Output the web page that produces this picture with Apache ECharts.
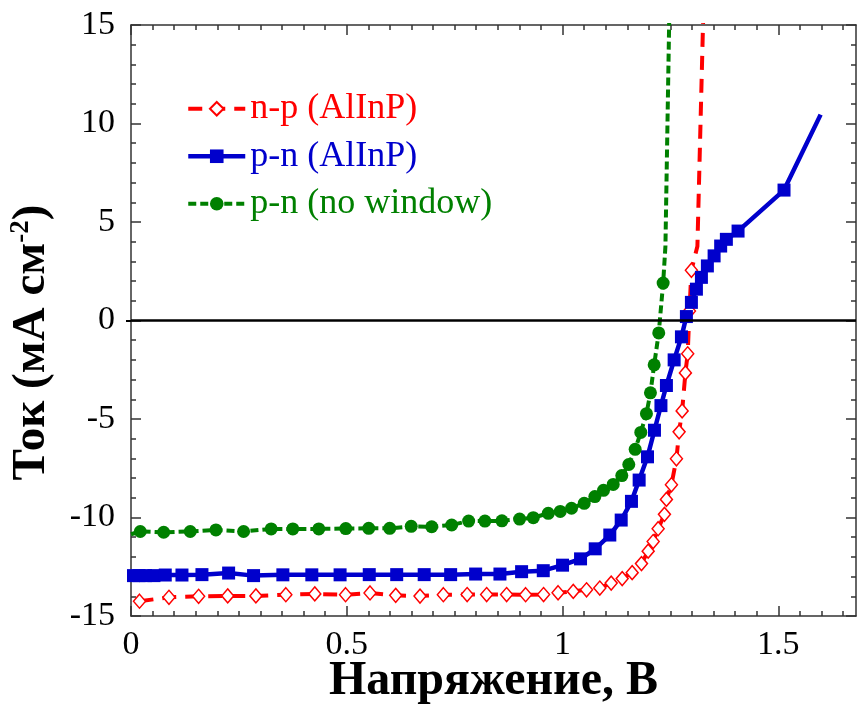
<!DOCTYPE html>
<html><head><meta charset="utf-8">
<script src="https://cdn.jsdelivr.net/npm/echarts@6/dist/echarts.min.js"></script>
<style>html,body{margin:0;padding:0;background:#fff}#c{width:860px;height:711px}</style>
</head><body><div id="c"></div>
<script>
// ---- data ----
const seriesNames = ['n-p (AlInP)', 'p-n (AlInP)', 'p-n (no window)'];
const xTickLabels = [0, 0.5, 1, 1.5];
const yTickLabels = [-15, -10, -5, 0, 5, 10, 15];

const redV = [0.0197,0.088,0.1567,0.2241,0.2894,0.3588,0.4259,0.4972,0.5539,0.6134,0.6697,0.7238,0.7789,0.8241,0.8704,0.9144,0.956,0.9896,1.0248,1.0556,1.0863,1.1127,1.1382,1.1613,1.1829,1.1984,1.21,1.2215,1.2361,1.2407,1.2523,1.2639,1.2701,1.2771,1.2847,1.29,1.294,1.2986,1.3125,1.3287];
const redI = [-14.25,-14.05,-14.0,-13.98,-13.98,-13.92,-13.88,-13.92,-13.83,-13.95,-13.99,-13.92,-13.91,-13.91,-13.91,-13.92,-13.91,-13.82,-13.75,-13.67,-13.58,-13.33,-13.10,-12.80,-12.34,-11.71,-11.22,-10.57,-9.84,-9.08,-8.34,-7.02,-5.65,-4.59,-2.66,-1.69,0.48,2.55,3.77,17.8];
const redNoMarker = [38, 39];

const blueV = [0.0058,0.0185,0.0336,0.0532,0.0794,0.1181,0.1644,0.2262,0.284,0.3519,0.419,0.4845,0.5521,0.6157,0.6794,0.7407,0.7986,0.8549,0.9051,0.9553,1.0,1.0417,1.0757,1.1095,1.1359,1.1597,1.1775,1.1968,1.213,1.228,1.2407,1.2586,1.2755,1.287,1.2986,1.3102,1.3218,1.3356,1.3512,1.3664,1.3796,1.4067,1.5132,1.598];
const blueI = [-12.95,-12.95,-12.95,-12.95,-12.92,-12.92,-12.90,-12.82,-12.95,-12.91,-12.91,-12.91,-12.90,-12.90,-12.90,-12.90,-12.87,-12.87,-12.75,-12.70,-12.42,-12.10,-11.59,-10.89,-10.13,-9.18,-8.10,-6.92,-5.57,-4.32,-3.30,-2.00,-0.83,0.20,0.92,1.59,2.19,2.77,3.28,3.78,4.12,4.54,6.62,10.45];
const blueNoMarker = [43];

const greenV = [0.0,0.0215,0.0757,0.1373,0.1968,0.2609,0.3248,0.375,0.4352,0.4977,0.5509,0.5995,0.6493,0.6968,0.7431,0.7824,0.8201,0.8595,0.9005,0.9322,0.9669,0.9947,1.0208,1.0502,1.0748,1.0949,1.1174,1.1373,1.1535,1.1683,1.1813,1.1944,1.2037,1.2123,1.2229,1.2331,1.2384,1.2491];
const greenI = [-10.85,-10.71,-10.75,-10.71,-10.63,-10.71,-10.58,-10.58,-10.58,-10.56,-10.55,-10.55,-10.45,-10.47,-10.38,-10.18,-10.18,-10.17,-10.08,-10.01,-9.79,-9.69,-9.53,-9.28,-8.94,-8.62,-8.32,-7.87,-7.31,-6.54,-5.68,-4.73,-3.67,-2.25,-0.63,1.90,3.77,17.8];
const greenNoMarker = [0, 36, 37];

// ---- styling ----
const FONT = 'Liberation Serif';
const RED = '#ff0000', BLUE = '#0000cc', GREEN = '#008000';
const frameLine = {color: '#333', width: 1.5};
const X_MAX = 1.68;
const xMinorTicks = [];
for (let k = 0; k * 0.05 <= X_MAX + 1e-9; k++) xMinorTicks.push(+(k * 0.05).toFixed(2));

function pts(V, I, noMarker) {
  return V.map((v, i) => noMarker.indexOf(i) >= 0 ? {value: [v, I[i]], symbol: 'none'} : [v, I[i]]);
}

const baseX = {type: 'value', min: 0, max: X_MAX, splitLine: {show: false}};
const baseY = {type: 'value', min: -15, max: 15, interval: 5, splitLine: {show: false}};

const option = {
  animation: false,
  backgroundColor: '#fff',
  grid: {left: 129, right: 4, top: 25, bottom: 93, containLabel: false},
  legend: {
    orient: 'vertical', left: 181, top: 80, itemWidth: 57, itemHeight: 17, itemGap: 0,
    selectedMode: false,
    textStyle: {fontFamily: FONT, fontSize: 36, lineHeight: 47.5},
    data: [
      {name: seriesNames[0], textStyle: {color: RED}, lineStyle: {width: 4, type: [14, 9], color: RED}},
      {name: seriesNames[1], textStyle: {color: BLUE}, lineStyle: {width: 4.5, type: 'solid', color: BLUE}},
      {name: seriesNames[2], textStyle: {color: GREEN}, lineStyle: {width: 4, type: [8, 4], color: GREEN}}
    ]
  },
  xAxis: [
    Object.assign({}, baseX, {
      position: 'bottom',
      axisLine: {show: true, onZero: false, lineStyle: frameLine},
      axisTick: {show: true, inside: true, length: 10, customValues: xTickLabels, lineStyle: frameLine},
      axisLabel: {customValues: xTickLabels, fontFamily: FONT, fontSize: 34, color: '#000', margin: 12},
      name: 'Напряжение, В', nameLocation: 'middle', nameGap: 42, nameMoveOverlap: false,
      nameTextStyle: {fontFamily: FONT, fontWeight: 'bold', fontSize: 48, color: '#000'}
    }),
    Object.assign({}, baseX, {
      position: 'bottom',
      axisLine: {show: false, onZero: false},
      axisTick: {show: true, inside: true, length: 5, customValues: xMinorTicks, lineStyle: frameLine},
      axisLabel: {show: false}
    }),
    Object.assign({}, baseX, {
      position: 'top',
      axisLine: {show: true, onZero: false, lineStyle: frameLine},
      axisTick: {show: true, inside: true, length: 10, customValues: xTickLabels, lineStyle: frameLine},
      axisLabel: {show: false}
    }),
    Object.assign({}, baseX, {
      position: 'top',
      axisLine: {show: false, onZero: false},
      axisTick: {show: true, inside: true, length: 5, customValues: xMinorTicks, lineStyle: frameLine},
      axisLabel: {show: false}
    })
  ],
  yAxis: [
    Object.assign({}, baseY, {
      position: 'left',
      axisLine: {show: true, onZero: false, lineStyle: frameLine},
      axisTick: {show: true, inside: true, length: 10, lineStyle: frameLine},
      minorTick: {show: true, splitNumber: 5, length: 5, lineStyle: frameLine},
      axisLabel: {fontFamily: FONT, fontSize: 34, color: '#000', margin: 16},
      name: 'Ток (мА см{sup|-2})', nameLocation: 'middle', nameGap: 76, nameMoveOverlap: false,
      nameTextStyle: {
        fontFamily: FONT, fontWeight: 'bold', fontSize: 47, color: '#000', padding: [0, 44, 0, 0],
        rich: {sup: {fontFamily: FONT, fontWeight: 'bold', fontSize: 27, color: '#000', verticalAlign: 'top', padding: [0, 0, 16, 0]}}
      }
    }),
    Object.assign({}, baseY, {
      position: 'right',
      axisLine: {show: true, onZero: false, lineStyle: frameLine},
      axisTick: {show: true, inside: true, length: 10, lineStyle: frameLine},
      minorTick: {show: true, splitNumber: 5, length: 5, lineStyle: frameLine},
      axisLabel: {show: false}
    }),
    Object.assign({}, baseY, {
      position: 'left',
      axisLine: {show: false, onZero: false},
      axisTick: {show: true, inside: false, length: 5, customValues: [0], lineStyle: {color: '#000', width: 2}},
      axisLabel: {show: false}
    })
  ],
  series: [
    {
      name: seriesNames[0], type: 'line', xAxisIndex: 0, yAxisIndex: 0,
      data: pts(redV, redI, redNoMarker),
      symbol: 'diamond', symbolSize: [12, 14], showAllSymbol: true,
      lineStyle: {color: RED, width: 4, type: [14, 9]},
      itemStyle: {color: '#fff', borderColor: RED, borderWidth: 1.5},
      emphasis: {disabled: true}
    },
    {
      name: seriesNames[1], type: 'line', xAxisIndex: 0, yAxisIndex: 0,
      data: pts(blueV, blueI, blueNoMarker),
      symbol: 'rect', symbolSize: 13, showAllSymbol: true,
      lineStyle: {color: BLUE, width: 4.5},
      itemStyle: {color: BLUE},
      emphasis: {disabled: true},
      markLine: {
        silent: true, symbol: ['none', 'none'], label: {show: false},
        lineStyle: {color: '#000', width: 2.5, type: 'solid'},
        data: [{yAxis: 0}]
      }
    },
    {
      name: seriesNames[2], type: 'line', xAxisIndex: 0, yAxisIndex: 0,
      data: pts(greenV, greenI, greenNoMarker),
      symbol: 'circle', symbolSize: 13, showAllSymbol: true,
      lineStyle: {color: GREEN, width: 4, type: [8, 4]},
      itemStyle: {color: GREEN},
      emphasis: {disabled: true}
    }
  ]
};

const chart = echarts.init(document.getElementById('c'), null, {renderer: 'canvas'});
chart.setOption(option);
</script>
</body></html>
